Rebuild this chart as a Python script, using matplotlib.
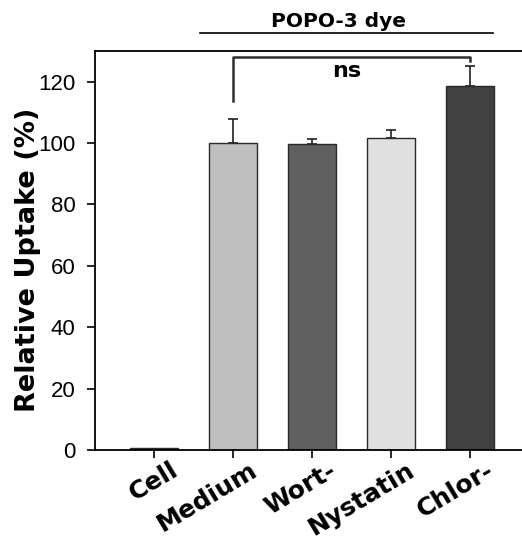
import matplotlib.pyplot as plt
import matplotlib.transforms as mtransforms
import numpy as np

categories = ['Cell', 'Medium', 'Wort-', 'Nystatin', 'Chlor-']
uptake = [0.6, 100.0, 99.8, 101.6, 118.7]
errors = [0.0, 8.0, 1.5, 2.5, 6.3]
colors = ['#303030', '#c0c0c0', '#606060', '#e0e0e0', '#404040']
y_ticks = [0, 20, 40, 60, 80, 100, 120]

fig = plt.figure(figsize=(5.22, 5.42), dpi=100)
ax = fig.add_axes([95 / 522, 92 / 542, 434 / 522, 399 / 542])

x = np.arange(len(categories))
ax.bar(x, uptake, width=0.61, color=colors, edgecolor='#2a2a2a', linewidth=1.0, zorder=2)
err_idx = [i for i in range(len(categories)) if errors[i] > 0]
ax.errorbar(x[err_idx], [uptake[i] for i in err_idx],
            yerr=[[0] * len(err_idx), [errors[i] for i in err_idx]],
            fmt='none', ecolor='#202020', elinewidth=1.2, capsize=3.6, capthick=1.2, zorder=1)

ax.set_xlim(-0.75, 4.75)
ax.set_ylim(0, 130)
ax.set_yticks(y_ticks)
ax.set_yticklabels([str(v) for v in y_ticks], family='Liberation Sans', fontsize=16)
ax.set_xticks(x)
ax.set_xticklabels([])
ax.tick_params(direction='out', length=6, width=1.2)
ax.tick_params(axis='y', pad=8)
for s in ax.spines.values():
    s.set_linewidth(1.3)
ax.spines['right'].set_visible(False)

# category labels, rotated and nudged to the right like the original
lab_tr = mtransforms.blended_transform_factory(ax.transData, ax.transAxes) + \
    mtransforms.ScaledTranslation(0.16, -0.08, fig.dpi_scale_trans)
for xi, name in zip(x, categories):
    ax.text(xi, 0, name, transform=lab_tr, rotation=31, ha='right', va='top', rotation_mode='anchor',
            fontweight='bold', fontsize=18, family='DejaVu Sans')

ax.set_ylabel('Relative Uptake (%)', family='DejaVu Sans', fontweight='bold', fontsize=19.5)
ax.yaxis.set_label_coords(-0.125, 0.476)

# significance bracket
br_top = 128
ax.plot([1, 1, 4, 4], [113.8, br_top, br_top, 126.8], color='#303030', lw=1.8, clip_on=False)
ax.text(2.44, 121.6, 'ns', ha='center', va='baseline', fontsize=16, fontweight='bold', family='DejaVu Sans')

# group label above the plot
ax.plot([0.58, 4.29], [135.8, 135.8], color='black', lw=1.2, clip_on=False)
ax.text(2.33, 137.9, 'POPO-3 dye', ha='center', va='baseline', fontsize=14.5, fontweight='bold',
        family='DejaVu Sans')

fig.savefig('out.png', dpi=100)
